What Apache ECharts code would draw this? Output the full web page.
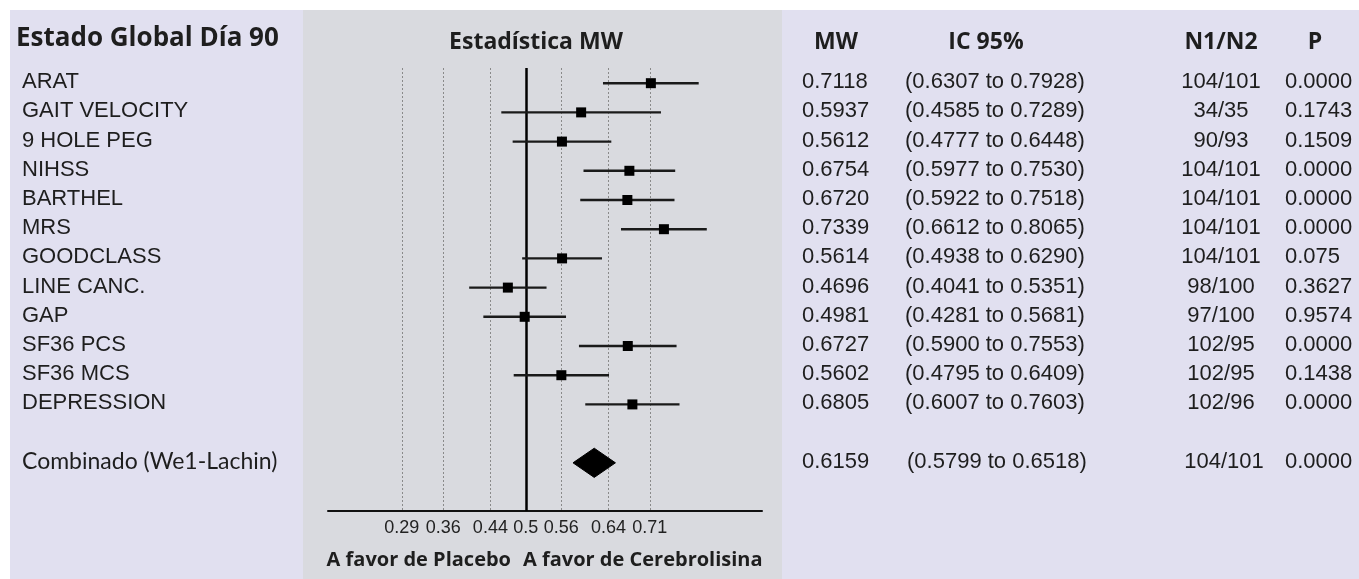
<!DOCTYPE html>
<html>
<head>
<meta charset="utf-8">
<title>Estado Global Día 90</title>
<script src="https://cdn.jsdelivr.net/npm/echarts@6.0.0/dist/echarts.min.js"></script>
<style>
  html, body { margin: 0; padding: 0; background: #fff; }
  #forest { width: 1359px; height: 579px; }
</style>
</head>
<body>
<div id="forest"></div>
<script>
  // valores
  var outcomes = ['ARAT', 'GAIT VELOCITY', '9 HOLE PEG', 'NIHSS', 'BARTHEL', 'MRS',
    'GOODCLASS', 'LINE CANC.', 'GAP', 'SF36 PCS', 'SF36 MCS', 'DEPRESSION'];
  var mwValues = [0.7118, 0.5937, 0.5612, 0.6754, 0.6720, 0.7339, 0.5614, 0.4696, 0.4981, 0.6727, 0.5602, 0.6805];
  var ciLow = [0.6307, 0.4585, 0.4777, 0.5977, 0.5922, 0.6612, 0.4938, 0.4041, 0.4281, 0.5900, 0.4795, 0.6007];
  var ciHigh = [0.7928, 0.7289, 0.6448, 0.7530, 0.7518, 0.8065, 0.6290, 0.5351, 0.5681, 0.7553, 0.6409, 0.7603];
  var nGroups = ['104/101', '34/35', '90/93', '104/101', '104/101', '104/101', '104/101', '98/100', '97/100', '102/95', '102/95', '102/96'];
  var pValues = ['0.0000', '0.1743', '0.1509', '0.0000', '0.0000', '0.0000', '0.075', '0.3627', '0.9574', '0.0000', '0.1438', '0.0000'];

  var combinedLabel = 'Combinado (We1-Lachin)';
  var combinedMW = 0.6159;
  var combinedLow = 0.5799;
  var combinedHigh = 0.6518;
  var combinedN = '104/101';
  var combinedP = '0.0000';
  var combinedRow = 13;

  var tickValues = [0.29, 0.36, 0.44, 0.5, 0.56, 0.64, 0.71];

  var calibri = 'Lato, "Open Sans", sans-serif';
  var calibriBold = '"Open Sans", Lato, sans-serif';
  var arial = '"Liberation Sans", Arial, sans-serif';

  var chart = echarts.init(document.getElementById('forest'));

  var ciData = outcomes.map(function (name, i) {
    return [i, mwValues[i], ciLow[i], ciHigh[i]];
  });

  var dottedLines = tickValues.filter(function (v) { return v !== 0.5; }).map(function (v) {
    return {xAxis: v};
  });

  chart.setOption({
    backgroundColor: '#fff',
    animation: false,
    grid: {left: 328, right: 597, top: 68, bottom: 68},
    xAxis: {
      type: 'value',
      min: 0.165,
      max: 0.9,
      axisLine: {show: true, onZero: false, lineStyle: {color: '#111', width: 2}},
      axisTick: {show: false},
      splitLine: {show: false},
      axisLabel: {
        customValues: tickValues,
        color: '#222',
        fontFamily: arial,
        fontSize: 18,
        margin: 8
      }
    },
    yAxis: {
      type: 'value',
      inverse: true,
      min: -0.52,
      max: 14.65,
      show: false,
      splitLine: {show: false}
    },
    series: [
      {
        // lineas de referencia
        type: 'line',
        data: [],
        silent: true,
        z: 1,
        markLine: {
          symbol: 'none',
          label: {show: false},
          lineStyle: {color: '#8a8a8a', type: [2, 2], width: 1},
          data: dottedLines
        }
      },
      {
        type: 'line',
        data: [],
        silent: true,
        z: 3,
        markLine: {
          symbol: 'none',
          label: {show: false},
          lineStyle: {color: '#000', type: 'solid', width: 2.5},
          data: [{xAxis: 0.5}]
        }
      },
      {
        type: 'custom',
        z: 5,
        encode: {x: [1, 2, 3], y: 0},
        data: ciData,
        renderItem: function (params, api) {
          var row = api.value(0);
          var p = api.coord([api.value(1), row]);
          var lo = api.coord([api.value(2), row]);
          var hi = api.coord([api.value(3), row]);
          return {
            type: 'group',
            children: [
              {type: 'line', shape: {x1: lo[0], y1: lo[1], x2: hi[0], y2: hi[1]},
                style: {stroke: '#1a1a1a', lineWidth: 2.4}},
              {type: 'rect', shape: {x: p[0] - 5, y: p[1] - 5, width: 10, height: 10},
                style: {fill: '#000'}}
            ]
          };
        }
      },
      {
        // diamante combinado
        type: 'custom',
        z: 5,
        encode: {x: [1, 2, 3], y: 0},
        data: [[combinedRow, combinedMW, combinedLow, combinedHigh]],
        renderItem: function (params, api) {
          var row = api.value(0);
          var pts = [
            api.coord([api.value(2), row]),
            api.coord([api.value(1), row - 0.5]),
            api.coord([api.value(3), row]),
            api.coord([api.value(1), row + 0.5])
          ];
          return {type: 'polygon', shape: {points: pts}, style: {fill: '#000', stroke: '#000', lineWidth: 1}};
        }
      }
    ]
  });

  // textos de la tabla
  function rowY(i) {
    return chart.convertToPixel({yAxisIndex: 0}, i) - 1;
  }

  function txt(text, x, y, opts) {
    opts = opts || {};
    return {
      type: 'text',
      x: x,
      y: y,
      z: 10,
      style: {
        text: text,
        fill: '#1e1e1e',
        font: (opts.bold ? 'bold ' : '') + (opts.size || 22) + 'px ' + (opts.family || arial),
        textAlign: opts.align || 'left',
        textVerticalAlign: 'middle'
      }
    };
  }

  var g = [
    {type: 'rect', z: -10, shape: {x: 10, y: 10, width: 1349, height: 569}, style: {fill: '#e1e0f0'}},
    {type: 'rect', z: -9, shape: {x: 303, y: 10, width: 479, height: 569}, style: {fill: '#d9dadf'}},
    txt('Estado Global Día 90', 16, 39, {bold: true, size: 26, family: calibriBold}),
    txt('Estadística MW', 536, 42, {bold: true, size: 23, family: calibriBold, align: 'center'}),
    txt('MW', 836, 42, {bold: true, size: 23, family: calibriBold, align: 'center'}),
    txt('IC 95%', 986, 42, {bold: true, size: 23, family: calibriBold, align: 'center'}),
    txt('N1/N2', 1221, 42, {bold: true, size: 23, family: calibriBold, align: 'center'}),
    txt('P', 1315, 42, {bold: true, size: 23, family: calibriBold, align: 'center'}),
    txt('A favor de Placebo', 511, 560, {bold: true, size: 20, family: calibriBold, align: 'right'}),
    txt('A favor de Cerebrolisina', 523, 560, {bold: true, size: 20, family: calibriBold})
  ];

  outcomes.forEach(function (name, i) {
    var y = rowY(i);
    g.push(txt(name, 22, y));
    g.push(txt(mwValues[i].toFixed(4), 802, y));
    g.push(txt('(' + ciLow[i].toFixed(4) + ' to ' + ciHigh[i].toFixed(4) + ')', 905, y));
    g.push(txt(nGroups[i], 1221, y, {align: 'center'}));
    g.push(txt(pValues[i], 1285, y));
  });

  var yc = rowY(combinedRow);
  g.push(txt(combinedLabel, 22, yc, {size: 23, family: calibri}));
  g.push(txt(combinedMW.toFixed(4), 802, yc));
  g.push(txt('(' + combinedLow.toFixed(4) + ' to ' + combinedHigh.toFixed(4) + ')', 907, yc));
  g.push(txt(combinedN, 1224, yc, {align: 'center'}));
  g.push(txt(combinedP, 1285, yc));

  chart.setOption({graphic: g});
  window.onresize = chart.resize;
</script>
</body>
</html>
